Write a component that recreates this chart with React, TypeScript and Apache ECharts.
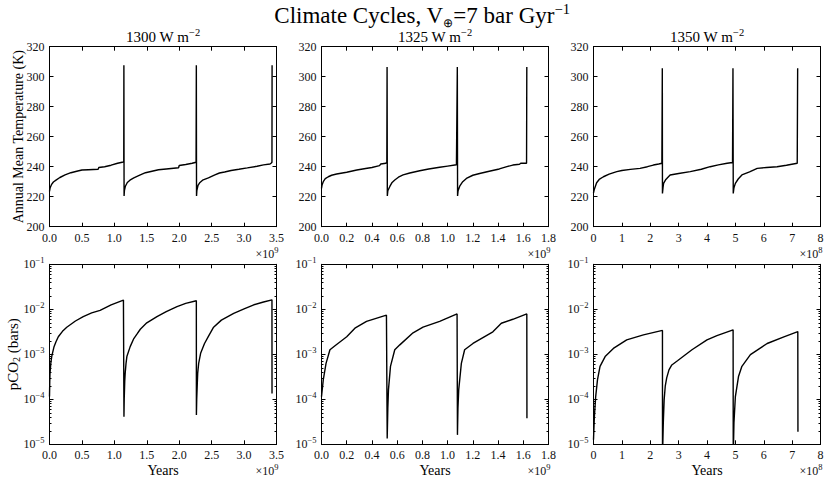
import React, { useEffect, useRef } from "react";
import * as echarts from "echarts";

// ---------- axis / tick definitions ----------
const fluxLabels = ["1300", "1325", "1350"];
const xAxisMax = [3.5, 1.8, 8];
const xAxisStep = [0.5, 0.2, 1];
const xLabelDecimals = [1, 1, 0];
const xOffsetExponent = ["9", "9", "8"];
const tempAxisMin = 200;
const tempAxisMax = 320;
const tempAxisStep = 20;
const pco2AxisMin = 1e-5;
const pco2AxisMax = 1e-1;

// ---------- 1300 W m^-2 (years in 1e9) ----------
const years1300T = [
  0, 0.01, 0.03, 0.06, 0.1, 0.16, 0.24, 0.33, 0.42, 0.5, 0.6, 0.75, 0.76, 0.85, 0.95, 1.05, 1.12, 1.145, 1.147, 1.15,
  1.155, 1.17, 1.2, 1.24, 1.3, 1.4, 1.48, 1.58, 1.68, 1.8, 1.99, 2.0, 2.1, 2.2, 2.26, 2.264, 2.267,
  2.272, 2.29, 2.32, 2.36, 2.45, 2.55, 2.62, 2.7, 2.8, 2.92, 3.05, 3.2, 3.3, 3.4, 3.42, 3.43, 3.432,
];
const temp1300 = [
  223.5, 226, 228, 229.8, 231, 232.8, 234.5, 236, 237, 237.8, 238, 238.3, 239.5, 240, 241, 242.3, 243, 243.2, 307.6, 220.5,
  224, 227, 229.5, 231, 232.5, 234.5, 236, 237, 238, 238.5, 239.3, 240.8, 241.5, 242.3, 243, 307.6, 220.5,
  224, 227.5, 229.5, 231, 232.5, 234.5, 235.8, 236.5, 237.5, 238.3, 239.2, 240.3, 241.2, 241.8, 242.5, 243, 307.6,
];
const years1300P = [
  0, 0.004, 0.008, 0.02, 0.034, 0.05, 0.07, 0.1, 0.136, 0.2, 0.266, 0.4, 0.52, 0.65, 0.78, 0.95, 1.14, 1.147, 1.148,
  1.152, 1.16, 1.167, 1.18, 1.193, 1.244, 1.3, 1.348, 1.4, 1.5, 1.657, 1.8, 1.966, 2.1, 2.264, 2.265,
  2.27, 2.28, 2.285, 2.3, 2.33, 2.39, 2.45, 2.53, 2.65, 2.84, 3.0, 3.15, 3.3, 3.43, 3.431,
];
const pco21300 = [
  1.15e-4, 2.5e-4, 3.8e-4, 6.3e-4, 8.9e-4, 1.12e-3, 1.48e-3, 1.9e-3, 2.45e-3, 3.24e-3, 3.98e-3, 5.5e-3, 6.9e-3, 8.3e-3, 9.5e-3, 1.26e-2, 1.6e-2, 1.62e-2, 4.1e-5,
  1e-4, 2.5e-4, 3.8e-4, 6.3e-4, 8.9e-4, 1.48e-3, 2.24e-3, 2.8e-3, 3.6e-3, 5e-3, 6.9e-3, 8.9e-3, 1.15e-2, 1.35e-2, 1.55e-2, 4.5e-5,
  1e-4, 2.5e-4, 3.8e-4, 6.3e-4, 1.05e-3, 1.74e-3, 2.5e-3, 4e-3, 5.75e-3, 8.1e-3, 1.02e-2, 1.26e-2, 1.45e-2, 1.62e-2, 1.35e-4,
];

// ---------- 1325 W m^-2 (years in 1e9) ----------
const years1325T = [
  0, 0.005, 0.014, 0.03, 0.054, 0.08, 0.12, 0.2, 0.28, 0.35, 0.4, 0.46, 0.47, 0.51, 0.518, 0.52, 0.522,
  0.526, 0.543, 0.56, 0.581, 0.61, 0.647, 0.7, 0.779, 0.85, 0.937, 1.0, 1.07, 1.075, 1.077, 1.079,
  1.083, 1.096, 1.12, 1.149, 1.2, 1.254, 1.33, 1.41, 1.47, 1.517, 1.57, 1.58, 1.626, 1.628,
];
const temp1325 = [
  225.5, 228, 230, 232, 233.3, 234.3, 235.1, 236.3, 237.8, 238.8, 239.5, 240.7, 241.8, 242.3, 242.8, 306.5, 220.5,
  224, 227, 229.5, 231.1, 233, 234.5, 235.8, 237.3, 238.5, 239.6, 240.4, 241.3, 241.5, 306.5, 220.5,
  224, 227, 230, 232.2, 234.3, 235.5, 237, 238.5, 240, 241.1, 241.6, 242.3, 242.3, 306.5,
];
const years1325P = [
  0, 0.014, 0.036, 0.067, 0.107, 0.2, 0.265, 0.357, 0.515, 0.52, 0.521,
  0.526, 0.531, 0.547, 0.581, 0.621, 0.726, 0.805, 0.937, 1.075, 1.077, 1.078,
  1.082, 1.088, 1.109, 1.135, 1.201, 1.359, 1.426, 1.517, 1.628, 1.629,
];
const pco21325 = [
  1.15e-4, 2.7e-4, 6.3e-4, 1.26e-3, 1.55e-3, 2.45e-3, 3.8e-3, 5.4e-3, 7.4e-3, 7.4e-3, 1.35e-5,
  6.3e-5, 1.62e-4, 5.4e-4, 1.26e-3, 1.62e-3, 3e-3, 4e-3, 5.4e-3, 7.9e-3, 7.9e-3, 1.62e-5,
  6.3e-5, 1.62e-4, 6.3e-4, 1.26e-3, 1.74e-3, 3.16e-3, 4.9e-3, 6e-3, 7.9e-3, 3.8e-5,
];

// ---------- 1350 W m^-2 (years in 1e8) ----------
const years1350T = [
  0, 0.03, 0.11, 0.2, 0.35, 0.55, 0.82, 1.0, 1.3, 1.64, 1.9, 2.11, 2.3, 2.41, 2.425, 2.43,
  2.45, 2.47, 2.55, 2.7, 3.0, 3.41, 3.8, 4.11, 4.4, 4.71, 4.9, 4.915, 4.925,
  4.95, 5.0, 5.1, 5.23, 5.5, 5.77, 6.1, 6.47, 6.8, 7.18, 7.195,
];
const temp1350 = [
  222.5, 225, 229.3, 231.5, 233.3, 235, 236.7, 237.5, 238.2, 238.9, 240, 241.1, 241.8, 242.3, 305.6, 222.2,
  226, 228.9, 231.5, 234.5, 235.5, 236.7, 238.3, 240, 241.2, 242.3, 242.8, 305.6, 222.2,
  226, 228.9, 231.8, 234.5, 236.5, 238.9, 239.5, 240, 241, 242.3, 305.6,
];
const years1350P = [
  0, 0.03, 0.077, 0.14, 0.23, 0.41, 0.7, 1.17, 1.76, 2.43, 2.432,
  2.445, 2.46, 2.49, 2.53, 2.58, 2.66, 2.76, 2.96, 3.47, 4.0, 4.35, 4.92, 4.925,
  4.94, 4.95, 5.0, 5.11, 5.23, 5.53, 6.12, 6.71, 7.2, 7.205,
];
const pco21350 = [
  1.26e-5, 4e-5, 1.15e-4, 2.7e-4, 5.4e-4, 8.9e-4, 1.35e-3, 2.1e-3, 2.7e-3, 3.4e-3, 5e-6,
  5e-6, 3e-5, 9.8e-5, 2e-4, 3e-4, 4.5e-4, 5.8e-4, 7.2e-4, 1.26e-3, 2.1e-3, 2.6e-3, 3.5e-3, 5e-6,
  5e-6, 3e-5, 1.15e-4, 3.2e-4, 5.4e-4, 9.8e-4, 1.74e-3, 2.45e-3, 3.2e-3, 1.9e-5,
];

// ---------- layout / style ----------
const PANEL_LEFT = [49.5, 321.5, 593.5];
const PANEL_W = 227;
const ROW_TOP = [46.7, 264.3];
const PANEL_H = 180;
const FONT = '"Liberation Serif", "Times New Roman", serif';
const INK = "#000";
const LABEL = "#111";

function supRich(base: number, sup: number) {
  return {
    b: { fontFamily: FONT, fontSize: base, lineHeight: base + 5, color: LABEL, fill: LABEL },
    sup: { fontFamily: FONT, fontSize: sup, lineHeight: sup, verticalAlign: "top", color: LABEL, fill: LABEL },
  };
}

function buildOption() {
  const tempSets = [
    [years1300T, temp1300],
    [years1325T, temp1325],
    [years1350T, temp1350],
  ];
  const pco2Sets = [
    [years1300P, pco21300],
    [years1325P, pco21325],
    [years1350P, pco21350],
  ];
  const grid: any[] = [];
  const xAxis: any[] = [];
  const yAxis: any[] = [];
  const series: any[] = [];
  const graphic: any[] = [];

  for (let row = 0; row < 2; row++) {
    for (let col = 0; col < 3; col++) {
      const gi = row * 3 + col;
      grid.push({
        left: PANEL_LEFT[col],
        top: ROW_TOP[row],
        width: PANEL_W,
        height: PANEL_H,
        containLabel: false,
        outerBoundsMode: "none",
        show: false,
      });
      const xCommon = {
        type: "value",
        gridIndex: gi,
        min: 0,
        max: xAxisMax[col],
        interval: xAxisStep[col],
        splitLine: { show: false },
        axisLine: { show: true, onZero: false, lineStyle: { color: INK, width: 1 } },
        axisTick: { show: true, inside: true, length: 4, lineStyle: { color: INK, width: 1 } },
      };
      xAxis.push({
        ...xCommon,
        position: "bottom",
        axisLabel: {
          show: true,
          margin: 5,
          color: LABEL,
          fontFamily: FONT,
          fontSize: 12,
          showMinLabel: true,
          showMaxLabel: true,
          formatter: (v: number) => v.toFixed(xLabelDecimals[col]),
        },
        name: row === 1 ? "Years" : "",
        nameLocation: "middle",
        nameGap: 19,
        nameMoveOverlap: false,
        nameTextStyle: { fontFamily: FONT, fontSize: 14, color: INK },
      });
      xAxis.push({ ...xCommon, position: "top", axisLabel: { show: false } });

      const yScale =
        row === 0
          ? { type: "value", min: tempAxisMin, max: tempAxisMax, interval: tempAxisStep }
          : {
              type: "log",
              logBase: 10,
              min: pco2AxisMin,
              max: pco2AxisMax,
              minorTick: { show: true, splitNumber: 9, length: 2, lineStyle: { color: INK, width: 1 } },
            };
      const yCommon = {
        ...yScale,
        gridIndex: gi,
        splitLine: { show: false },
        minorSplitLine: { show: false },
        axisLine: { show: true, onZero: false, lineStyle: { color: INK, width: 1 } },
        axisTick: { show: true, inside: true, length: 4, lineStyle: { color: INK, width: 1 } },
      };
      const yName =
        col === 0 ? (row === 0 ? "Annual Mean Temperature (K)" : "pCO{sub|2} (bars)") : "";
      yAxis.push({
        ...yCommon,
        position: "left",
        axisLabel: {
          show: true,
          margin: 5,
          color: LABEL,
          fontFamily: FONT,
          fontSize: 12,
          showMinLabel: true,
          showMaxLabel: true,
          formatter:
            row === 0
              ? (v: number) => String(v)
              : (v: number) => `{b|10}{sup|−${Math.round(-Math.log10(v))}}`,
          rich: supRich(12, 8.5),
        },
        name: yName,
        nameLocation: "middle",
        nameRotate: 90,
        nameGap: row === 0 ? 24 : 28,
        nameMoveOverlap: false,
        nameTextStyle:
          row === 0
            ? { fontFamily: FONT, fontSize: 14, color: INK }
            : {
                fontFamily: FONT,
                fontSize: 15,
                color: INK,
                lineHeight: 18,
                rich: {
                  sub: {
                    fontFamily: FONT,
                    fontSize: 10,
                    lineHeight: 13,
                    verticalAlign: "bottom",
                    color: INK,
                  },
                },
              },
      });
      yAxis.push({ ...yCommon, position: "right", axisLabel: { show: false } });

      const [xs, ys] = row === 0 ? tempSets[col] : pco2Sets[col];
      series.push({
        type: "line",
        xAxisIndex: gi * 2,
        yAxisIndex: gi * 2,
        data: xs.map((x: number, i: number) => [x, ys[i]]),
        showSymbol: false,
        symbol: "none",
        clip: true,
        lineStyle: { color: INK, width: 1.4 },
        itemStyle: { color: INK },
        emphasis: { disabled: true },
      });

      // offset (×10^n) label
      graphic.push({
        type: "text",
        x: PANEL_LEFT[col] + PANEL_W + 2,
        y: row === 0 ? 254 : 471,
        style: {
          text: `{b|×10}{sup|${xOffsetExponent[col]}}`,
          rich: supRich(12, 8.5),
          align: "right",
          verticalAlign: "middle",
          textAlign: "right",
          textVerticalAlign: "middle",
          fill: LABEL,
        },
      });
    }
  }
  for (let col = 0; col < 3; col++) {
    graphic.push({
      type: "text",
      x: PANEL_LEFT[col] + PANEL_W / 2,
      y: 37,
      style: {
        text: `{b|${fluxLabels[col]} W m}{sup|−2}`,
        rich: {
          b: { fontFamily: FONT, fontSize: 15, lineHeight: 21, fill: INK, color: INK },
          sup: { fontFamily: FONT, fontSize: 10.5, lineHeight: 10, verticalAlign: "top", fill: INK, color: INK },
        },
        align: "center",
        verticalAlign: "middle",
        textAlign: "center",
        textVerticalAlign: "middle",
        fill: INK,
      },
    });
  }
  graphic.push({
    type: "text",
    x: 422,
    y: 15,
    style: {
      text: "{b|Climate Cycles, V}{sub|⊕}{b|=7 bar Gyr}{sup|−1}",
      rich: {
        b: { fontFamily: FONT, fontSize: 23, lineHeight: 28, fill: INK, color: INK },
        sup: { fontFamily: FONT, fontSize: 14.5, lineHeight: 14, verticalAlign: "top", fill: INK, color: INK },
        sub: { fontFamily: FONT, fontSize: 11.5, lineHeight: 17, verticalAlign: "bottom", fill: INK, color: INK },
      },
      align: "center",
      verticalAlign: "middle",
      textAlign: "center",
      textVerticalAlign: "middle",
      fill: INK,
    },
  });

  return {
    animation: false,
    backgroundColor: "#fff",
    grid,
    xAxis,
    yAxis,
    series,
    graphic,
  };
}

export default function App() {
  const ref = useRef<HTMLDivElement>(null);
  useEffect(() => {
    document.body.style.margin = "0";
    const chart = echarts.init(ref.current as HTMLDivElement, null, { renderer: "svg" });
    chart.setOption(buildOption() as any);
    return () => chart.dispose();
  }, []);
  return <div ref={ref} style={{ width: 831, height: 483 }} />;
}
